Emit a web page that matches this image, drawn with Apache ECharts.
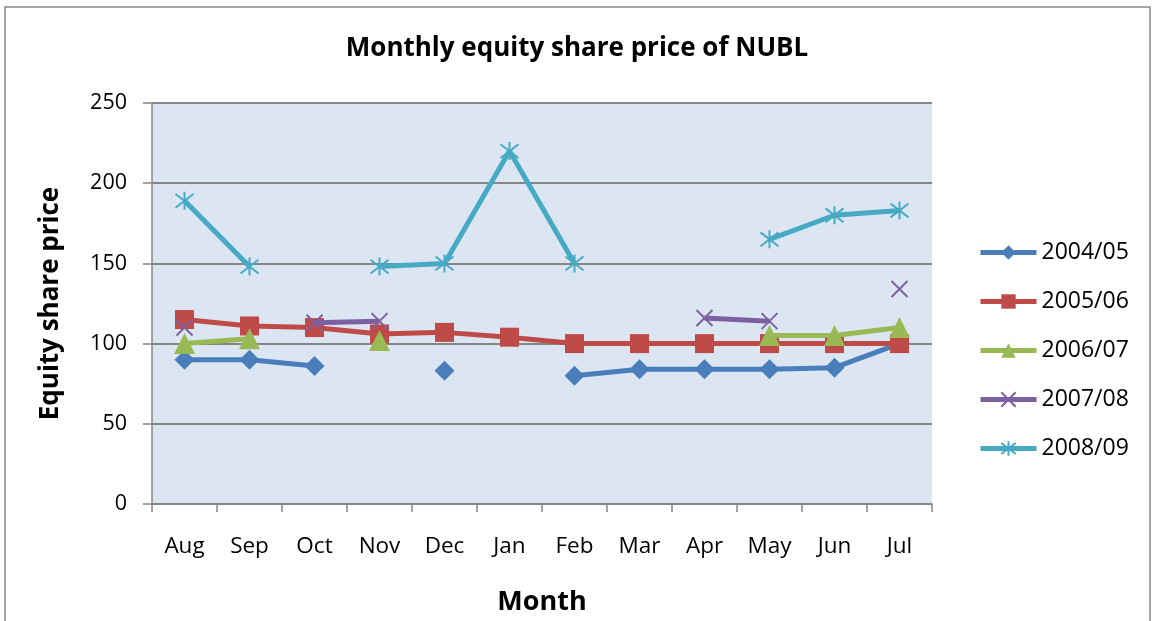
<!DOCTYPE html>
<html><head><meta charset="utf-8">
<script src="https://cdn.jsdelivr.net/npm/echarts@6/dist/echarts.min.js"></script>
<style>html,body{margin:0;padding:0;background:#fff}#c{width:1154px;height:621px}</style>
</head><body><div id="c"></div>
<script>
const months = ['Aug','Sep','Oct','Nov','Dec','Jan','Feb','Mar','Apr','May','Jun','Jul'];
const yTicks = [0,50,100,150,200,250];
const s0405 = [90, 90, 86, null, 83, null, 80, 84, 84, 84, 85, 100];
const s0506 = [115, 111, 110, 106, 107, 104, 100, 100, 100, 100, 100, 100];
const s0607 = [100, 103, null, 102, null, null, null, null, null, 105, 105, 110];
const s0708 = [110, null, 113, 114, null, null, null, null, 116, 114, null, 134];
const s0809 = [189, 148, null, 148, 150, 220, 150, null, null, 165, 180, 183];
const names = ['2004/05','2005/06','2006/07','2007/08','2008/09'];
const colors = ['#4A7EBB','#BE4B48','#98B954','#7D60A0','#46AAC5'];
const F = '"Open Sans", Lato, sans-serif';
const crossPath = 'path://M0,0L10,10M10,0L0,10';
const starPath = 'path://M0,0L10,10M10,0L0,10M5,-1.5L5,11.5';
function mk(i, data, sym, size, stroke){
  const s = {name:names[i], type:'line', data:data, symbol:sym, symbolSize:size,
    showSymbol:true, showAllSymbol:true, connectNulls:false,
    lineStyle:{color:colors[i], width:5}, itemStyle:{color:colors[i]}, z:2+i};
  if(stroke){ s.itemStyle = {color:'rgba(0,0,0,0)', borderColor:colors[i], borderWidth:2}; }
  return s;
}
const chart = echarts.init(document.getElementById('c'));
chart.setOption({
  backgroundColor:'#fff',
  animation:false,
  graphic:[{type:'rect', shape:{x:5,y:7,width:1145,height:630}, style:{fill:'none', stroke:'#888', lineWidth:1.5}, silent:true}],
  title:{text:'Monthly equity share price of NUBL', left:'center', top:31,
    textStyle:{fontFamily:F, fontSize:26, fontWeight:'bold', color:'#000'}},
  grid:{left:152, right:222, top:103, bottom:116, show:true, backgroundColor:'#DCE6F2', borderWidth:0},
  legend:{orient:'vertical', left:973, top:236, itemWidth:56, itemHeight:18, itemGap:26,
    lineStyle:{width:5},
    textStyle:{fontFamily:F, fontSize:23, color:'#000'}, data:names},
  xAxis:{type:'category', data:months, boundaryGap:true,
    name:'Month', nameLocation:'middle', nameGap:85,
    nameTextStyle:{fontFamily:F, fontSize:27, fontWeight:'bold', color:'#000'},
    axisLine:{lineStyle:{color:'#868686', width:1.5}},
    axisTick:{show:true, length:8, alignWithLabel:false, lineStyle:{color:'#868686', width:1.5}},
    axisLabel:{fontFamily:F, fontSize:22.5, color:'#000', margin:31},
    splitLine:{show:false}},
  yAxis:{type:'value', min:0, max:250, interval:50,
    name:'Equity share price', nameLocation:'middle', nameGap:88, nameRotate:90,
    nameTextStyle:{fontFamily:F, fontSize:26, fontWeight:'bold', color:'#000'},
    axisLine:{show:true, lineStyle:{color:'#868686', width:1.5}},
    axisTick:{show:true, length:9, lineStyle:{color:'#868686', width:1.5}},
    axisLabel:{fontFamily:F, fontSize:21.5, color:'#000', margin:25,
      formatter:function(v){ return yTicks.indexOf(v)>=0 ? String(v) : ''; }},
    splitLine:{show:true, lineStyle:{color:'#868686', width:2}}},
  series:[
    mk(0, s0405, 'diamond', 20, false),
    mk(1, s0506, 'rect', 19, false),
    mk(2, s0607, 'triangle', 21, false),
    mk(3, s0708, crossPath, 16, true),
    mk(4, s0809, starPath, 18, true)
  ]
});
</script></body></html>
